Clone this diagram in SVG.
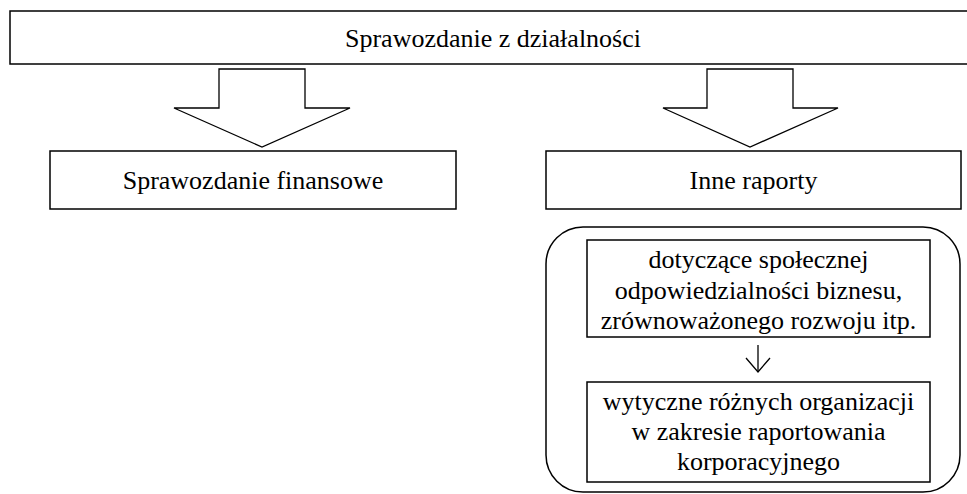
<svg xmlns="http://www.w3.org/2000/svg" width="967" height="494" viewBox="0 0 967 494">
<style>
.box{fill:#fff;stroke:#000;stroke-width:1.5}
.frame{fill:none;stroke:#000;stroke-width:1.5}
.arr{fill:#fff;stroke:#000;stroke-width:1.3;stroke-linejoin:miter}
.t{font-family:"Liberation Serif","Times New Roman",serif;font-size:26px;fill:#000;text-anchor:middle}
.ln{fill:none;stroke:#000;stroke-width:1.3}
</style>
<rect width="967" height="494" fill="#fff"/>
<g id="top">
<rect class="box" x="10" y="11" width="970" height="53"/>
<text class="t" x="493" y="47">Sprawozdanie z działalności</text>
</g>
<g id="group">
<rect class="frame" x="546" y="227" width="414" height="265" rx="37" ry="37"/>
</g>
<g id="finansowe">
<rect class="box" x="50" y="151" width="406" height="58"/>
<text class="t" x="253" y="189">Sprawozdanie finansowe</text>
</g>
<g id="inne">
<rect class="box" x="546" y="151" width="415" height="58"/>
<text class="t" x="753.5" y="189">Inne raporty</text>
</g>
<g id="dotyczace">
<rect class="box" x="587" y="240" width="343" height="97"/>
<text class="t" x="758.5" y="268">dotyczące społecznej</text>
<text class="t" x="758.5" y="298.5">odpowiedzialności biznesu,</text>
<text class="t" x="758.5" y="329">zrównoważonego rozwoju itp.</text>
</g>
<g id="wytyczne">
<rect class="box" x="587" y="382" width="343" height="100"/>
<text class="t" x="758.5" y="410">wytyczne różnych organizacji</text>
<text class="t" x="758.5" y="440">w zakresie raportowania</text>
<text class="t" x="758.5" y="470">korporacyjnego</text>
</g>
<g id="connectors">
<polygon class="arr" points="219,69 305,69 305,108 350,108 262,147 174,108 219,108"/>
<polygon class="arr" points="707,69 793,69 793,108 838,108 750,147 663,108 707,108"/>
<line class="ln" x1="758" y1="345" x2="758" y2="372"/>
<polyline class="ln" points="746,358 758,372 770,358"/>
</g>
</svg>
